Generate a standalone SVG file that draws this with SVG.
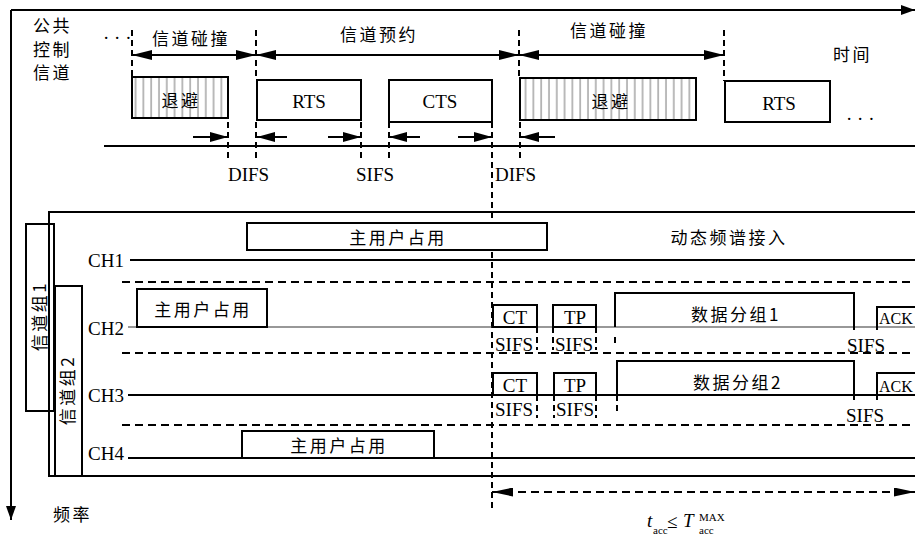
<svg xmlns="http://www.w3.org/2000/svg" width="915" height="540" viewBox="0 0 915 540">
<style>
.ln{stroke:#000;stroke-width:2;fill:none}
.thin{stroke:#333;stroke-width:1.2;fill:none}
.dash{stroke:#000;stroke-width:2;stroke-dasharray:6 4;fill:none}
.hd{stroke:#000;stroke-width:2;stroke-dasharray:8 5;fill:none}
.box{fill:#fff;stroke:#000;stroke-width:2}
.hbox{fill:url(#hatch);stroke:#000;stroke-width:2}
.t{font-family:"Liberation Serif","Noto Sans CJK SC",serif;font-size:19px;fill:#000}
.c{font-family:"Noto Sans CJK SC","Liberation Serif",sans-serif;font-size:17px;letter-spacing:2.5px;fill:#000}
.m{text-anchor:middle}
.s{font-family:"Liberation Serif",serif;font-size:11px;fill:#000}
.ack{font-family:"Liberation Serif",serif;font-size:16px;fill:#000}
</style>
<defs>
<pattern id="hatch" patternUnits="userSpaceOnUse" x="0" y="0" width="7.8" height="10">
<rect width="7.8" height="10" fill="#fff"/>
<line x1="3" y1="0" x2="3" y2="10" stroke="#aaa" stroke-width="1.6"/>
</pattern>
<marker id="big" viewBox="0 0 20 10" markerWidth="20" markerHeight="10" refX="20" refY="5" orient="auto-start-reverse" markerUnits="userSpaceOnUse">
<path d="M0,0 L20,5 L0,10 z" fill="#000"/>
</marker>
<marker id="sm" viewBox="0 0 18 10" markerWidth="18" markerHeight="10" refX="18" refY="5" orient="auto-start-reverse" markerUnits="userSpaceOnUse">
<path d="M0,0 L18,5 L0,10 z" fill="#000"/>
</marker>
<marker id="ax" viewBox="0 0 14 10" markerWidth="14" markerHeight="10" refX="14" refY="5" orient="auto" markerUnits="userSpaceOnUse">
<path d="M0,0 L14,5 L0,10 z" fill="#000"/>
</marker>
<marker id="dh" viewBox="0 0 21 9" markerWidth="21" markerHeight="9" refX="21" refY="4.5" orient="auto-start-reverse" markerUnits="userSpaceOnUse">
<path d="M0,0 L21,4.5 L0,9 z" fill="#000"/>
</marker>
</defs>
<rect width="915" height="540" fill="#fff"/>

<g id="axes">
<line class="ln" x1="11" y1="10" x2="915" y2="10" marker-end="url(#ax)"/>
<line class="ln" x1="11" y1="10" x2="11" y2="520" marker-end="url(#ax)"/>
<text class="c" x="33" y="32">公共</text>
<text class="c" x="33" y="56">控制</text>
<text class="c" x="33" y="79">信道</text>
<text class="t" x="103" y="44" font-size="15">· · ·</text>
<text class="c" x="833" y="61">时间</text>
<text class="c" x="53" y="521">频率</text>
</g>

<g id="connectors">
<line class="dash" x1="132" y1="30" x2="132" y2="77"/>
<line class="dash" x1="256" y1="30" x2="256" y2="80"/>
<line class="dash" x1="519" y1="30" x2="519" y2="78"/>
<line class="dash" x1="724" y1="30" x2="724" y2="81"/>
<line class="ln" x1="132" y1="55" x2="256" y2="55" marker-start="url(#big)" marker-end="url(#big)"/>
<line class="ln" x1="256" y1="55" x2="519" y2="55" marker-start="url(#big)" marker-end="url(#big)"/>
<line class="ln" x1="519" y1="55" x2="724" y2="55" marker-start="url(#big)" marker-end="url(#big)"/>
<line class="ln" x1="104" y1="146" x2="915" y2="146"/>
<line class="dash" x1="228" y1="122" x2="228" y2="162"/>
<line class="dash" x1="256" y1="122" x2="256" y2="162"/>
<line class="dash" x1="361" y1="122" x2="361" y2="162"/>
<line class="dash" x1="389" y1="122" x2="389" y2="162"/>
<line class="dash" x1="520" y1="122" x2="520" y2="162"/>
<line class="dash" x1="492" y1="122" x2="492" y2="510"/>
<line class="ln" x1="193" y1="137" x2="228" y2="137" marker-end="url(#sm)"/>
<line class="ln" x1="287" y1="137" x2="257" y2="137" marker-end="url(#sm)"/>
<line class="ln" x1="328" y1="137" x2="361" y2="137" marker-end="url(#sm)"/>
<line class="ln" x1="420" y1="137" x2="389" y2="137" marker-end="url(#sm)"/>
<line class="ln" x1="458" y1="137" x2="492" y2="137" marker-end="url(#sm)"/>
<line class="ln" x1="555" y1="137" x2="521" y2="137" marker-end="url(#sm)"/>
<text class="t" x="228" y="181">DIFS</text>
<text class="t m" x="375" y="181">SIFS</text>
<text class="t" x="495" y="181">DIFS</text>
<text class="c m" x="191" y="45">信道碰撞</text>
<text class="c m" x="379" y="41">信道预约</text>
<text class="c m" x="609" y="37">信道碰撞</text>

<path class="ln" d="M915,212 H49 V476 H915"/>
<line class="ln" x1="130" y1="260" x2="915" y2="260"/>
<line class="thin" x1="128" y1="327" x2="915" y2="327"/>
<line class="ln" x1="128" y1="395" x2="915" y2="395"/>
<line class="ln" x1="128" y1="458" x2="915" y2="458"/>
<line class="hd" x1="122" y1="282" x2="915" y2="282"/>
<line class="hd" x1="122" y1="353" x2="915" y2="353"/>
<line class="hd" x1="122" y1="425" x2="915" y2="425"/>
<line class="dash" x1="537" y1="327" x2="537" y2="350" stroke-dasharray="5 3"/>
<line class="dash" x1="553" y1="327" x2="553" y2="350" stroke-dasharray="5 3"/>
<line class="dash" x1="596" y1="327" x2="596" y2="350" stroke-dasharray="5 3"/>
<line class="ln" x1="615" y1="337" x2="615" y2="343"/>
<line class="dash" x1="537" y1="395" x2="537" y2="418" stroke-dasharray="5 3"/>
<line class="dash" x1="554" y1="395" x2="554" y2="418" stroke-dasharray="5 3"/>
<line class="dash" x1="596" y1="395" x2="596" y2="418" stroke-dasharray="5 3"/>
<line class="dash" x1="617" y1="395" x2="617" y2="415" stroke-dasharray="5 3"/>
<line class="hd" x1="492" y1="492" x2="915" y2="492" stroke-dasharray="7 5" marker-start="url(#dh)" marker-end="url(#dh)"/>
</g>

<g id="backoff1">
<rect class="hbox" x="132" y="77" width="96" height="41"/>
<text class="c m" x="181" y="107">退避</text>
</g>
<g id="rts1">
<rect class="box" x="257" y="80" width="104" height="40"/>
<text class="t m" x="309" y="108">RTS</text>
</g>
<g id="cts">
<rect class="box" x="389" y="80" width="103" height="42"/>
<text class="t m" x="440" y="108">CTS</text>
</g>
<g id="backoff2">
<rect class="hbox" x="520" y="78" width="176" height="42"/>
<text class="c m" x="611" y="108">退避</text>
</g>
<g id="rts2">
<rect class="box" x="725" y="81" width="105" height="41"/>
<text class="t m" x="779" y="110">RTS</text>
<text class="t" x="846" y="125" font-size="15">· · ·</text>
</g>

<g id="group1">
<rect x="26" y="224" width="28" height="187" fill="none" stroke="#000" stroke-width="2"/>
<text class="c m" x="40" y="322" transform="rotate(-90 40 316)">信道组1</text>
</g>
<g id="group2">
<rect x="55" y="286" width="27" height="190" fill="none" stroke="#000" stroke-width="2"/>
<text class="c m" x="68" y="396" transform="rotate(-90 68 390)">信道组2</text>
</g>

<g id="ch1">
<text class="t" x="88" y="267">CH1</text>
<rect class="box" x="247" y="223" width="300" height="27"/>
<text class="c m" x="398" y="244">主用户占用</text>
<text class="c m" x="729" y="244">动态频谱接入</text>
</g>
<g id="ch2">
<text class="t" x="88" y="335">CH2</text>
<rect class="box" x="137" y="289" width="130" height="38"/>
<text class="c m" x="203" y="316">主用户占用</text>
<rect class="box" x="493" y="305" width="44" height="22"/>
<text class="t m" x="515" y="324">CT</text>
<rect class="box" x="553" y="305" width="43" height="22"/>
<text class="t m" x="575" y="324">TP</text>
<text class="t" x="495" y="351">SIFS</text>
<text class="t" x="555" y="351">SIFS</text>
<path class="ln" d="M615,327 V293 H854 V330"/>
<text class="c m" x="736" y="321">数据分组1</text>
<path class="ln" d="M877,330 V307 H915"/>
<text class="ack" x="879" y="324">ACK</text>
<text class="t" x="847" y="352">SIFS</text>
</g>
<g id="ch3">
<text class="t" x="88" y="402">CH3</text>
<rect class="box" x="493" y="373" width="44" height="22"/>
<text class="t m" x="515" y="392">CT</text>
<rect class="box" x="554" y="373" width="42" height="22"/>
<text class="t m" x="575" y="392">TP</text>
<text class="t" x="495" y="416">SIFS</text>
<text class="t" x="556" y="416">SIFS</text>
<path class="ln" d="M617,395 V361 H854 V400"/>
<text class="c m" x="738" y="389">数据分组2</text>
<path class="ln" d="M877,400 V373 H915"/>
<text class="ack" x="879" y="392">ACK</text>
<text class="t" x="846" y="422">SIFS</text>
</g>
<g id="ch4">
<text class="t" x="88" y="460">CH4</text>
<rect class="box" x="242" y="431" width="192" height="27"/>
<text class="c m" x="339" y="452">主用户占用</text>
</g>

<g id="tacc">
<text class="t" x="647" y="527" font-style="italic">t</text>
<text class="s" x="653" y="534">acc</text>
<text class="t" x="667" y="528" font-size="22">≤</text>
<text class="t" x="683" y="527" font-style="italic">T</text>
<text class="s" x="699" y="521">MAX</text>
<text class="s" x="699" y="534">acc</text>
</g>
</svg>
